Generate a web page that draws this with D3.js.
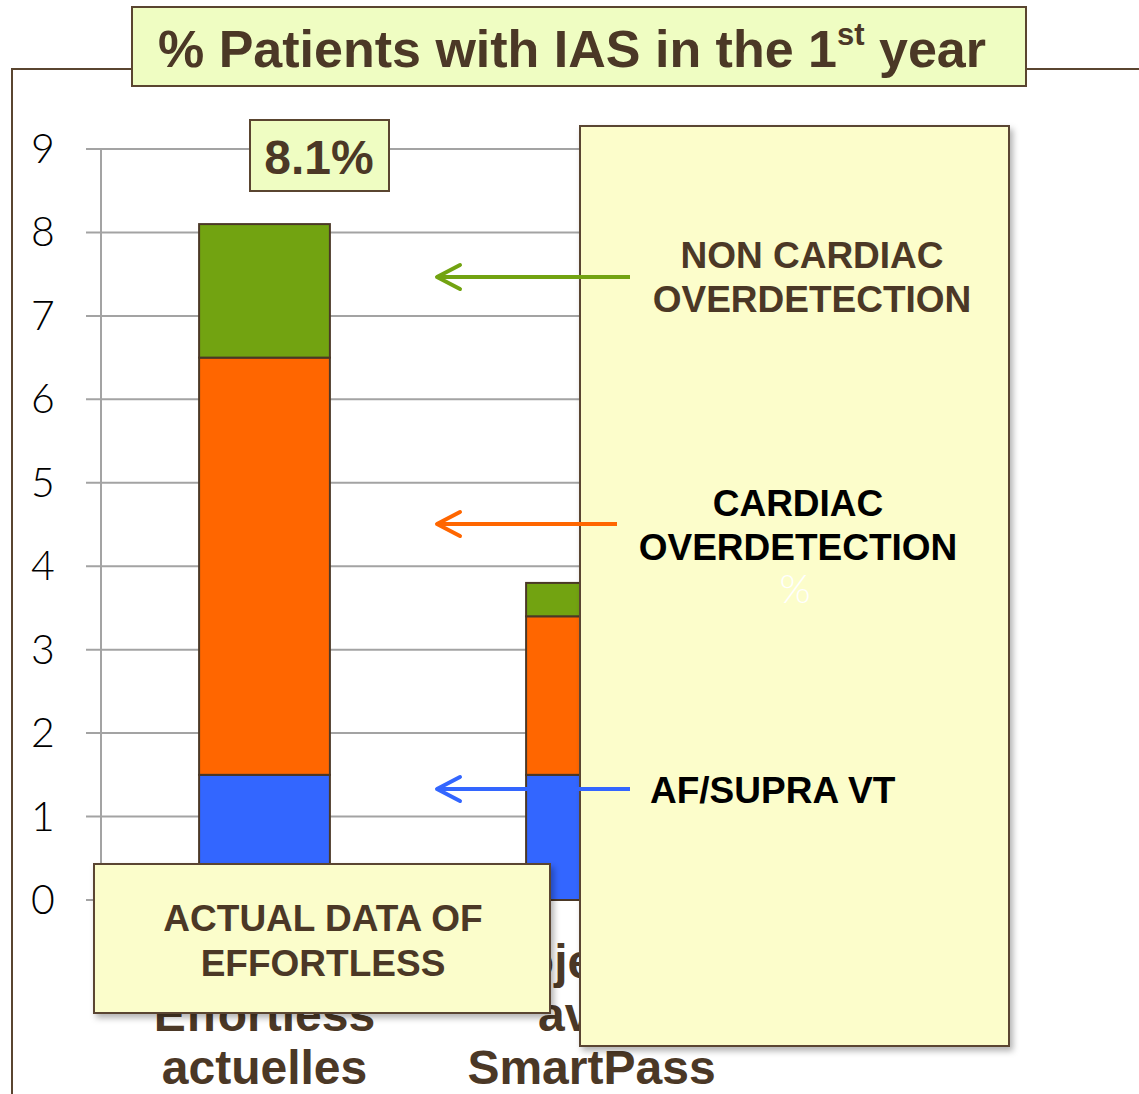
<!DOCTYPE html>
<html>
<head>
<meta charset="utf-8">
<script src="https://cdn.jsdelivr.net/npm/d3@7"></script>
<style>
  body { margin: 0; background: #fff; }
  svg { display: block; }
</style>
</head>
<body>
<script>
// values
var categories = ["Effortless", "SmartPass"];
var categoryLines = [["Données", "Effortless", "actuelles"], ["Projection", "avec", "SmartPass"]];
var seriesKeys = ["af", "cardiac", "noncardiac"];
var afSupra = [1.5, 1.5];
var cardiacOver = [5.0, 1.9];
var nonCardiacOver = [1.6, 0.4];
var yTicks = [0, 1, 2, 3, 4, 5, 6, 7, 8, 9];
var totalLabel = "8.1%";

var colors = { af: "#3366ff", cardiac: "#ff6600", noncardiac: "#72a311" };
var brown = "#4b3826";
var font = "Liberation Sans, Arial, sans-serif";

var width = 1139, height = 1094;

var rows = categories.map(function(c, i) {
  return { cat: c, af: afSupra[i], cardiac: cardiacOver[i], noncardiac: nonCardiacOver[i] };
});
var stacked = d3.stack().keys(seriesKeys)(rows);

var svg = d3.select("body").append("svg").attr("width", width).attr("height", height);

var defs = svg.append("defs");
var f = defs.append("filter").attr("id", "shadow").attr("x", "-10%").attr("y", "-10%").attr("width", "130%").attr("height", "130%");
f.append("feDropShadow").attr("dx", 3).attr("dy", 4).attr("stdDeviation", 3).attr("flood-color", "#000").attr("flood-opacity", 0.3);

var y = d3.scaleLinear().domain([0, 9]).range([900, 149]);
var x = d3.scaleBand().domain(categories).range([101, 755]).paddingInner(0.6).paddingOuter(0.3);

// outer frame
svg.append("path").attr("fill", "none").attr("stroke", "#5a4530").attr("stroke-width", 2)
  .attr("d", "M12,1094 L12,69 L140,69 M1020,69 L1139,69");

// gridlines
svg.append("g").selectAll("line").data(yTicks).enter().append("line")
  .attr("x1", 86).attr("x2", 1000)
  .attr("y1", function(d) { return y(d); }).attr("y2", function(d) { return y(d); })
  .attr("stroke", "#a3a3a3").attr("stroke-width", 2);
svg.append("line").attr("x1", 101).attr("x2", 101).attr("y1", y(9)).attr("y2", y(0))
  .attr("stroke", "#a3a3a3").attr("stroke-width", 2);

// tick labels
svg.append("g").selectAll("text").data(yTicks).enter().append("text")
  .attr("x", 43).attr("y", function(d) { return y(d) + 14; })
  .attr("text-anchor", "middle")
  .style("font-family", "Lato, 'DejaVu Sans', sans-serif").style("font-weight", 300)
  .style("font-size", "41px").attr("fill", "#000")
  .text(function(d) { return d; });

// bars
svg.append("g").selectAll("g").data(stacked).enter().append("g")
  .attr("fill", function(d) { return colors[d.key]; })
  .selectAll("rect").data(function(d) { return d; }).enter().append("rect")
  .attr("x", function(d) { return x(d.data.cat); })
  .attr("width", x.bandwidth())
  .attr("y", function(d) { return y(d[1]); })
  .attr("height", function(d) { return y(d[0]) - y(d[1]); })
  .attr("stroke", brown).attr("stroke-width", 2);

// category labels
categories.forEach(function(c, i) {
  svg.append("g").selectAll("text").data(categoryLines[i]).enter().append("text")
    .attr("x", x(c) + x.bandwidth() / 2)
    .attr("y", function(d, j) { return 978 + j * 53; })
    .attr("text-anchor", "middle")
    .style("font-family", font).style("font-weight", "bold")
    .style("font-size", "48px").attr("fill", brown)
    .text(function(d) { return d; });
});

// title box
svg.append("rect").attr("x", 132).attr("y", 7).attr("width", 894).attr("height", 79)
  .attr("fill", "#effdc2").attr("stroke", "#5a4530").attr("stroke-width", 2);
var title = svg.append("text").attr("x", 572).attr("y", 67).attr("text-anchor", "middle")
  .style("font-family", font).style("font-weight", "bold")
  .style("font-size", "52px").attr("fill", brown);
title.append("tspan").text("% Patients with IAS in the 1");
title.append("tspan").attr("dy", -22).style("font-size", "31px").text("st");
title.append("tspan").attr("dy", 22).text(" year");

// total label box
svg.append("rect").attr("x", 250).attr("y", 120).attr("width", 139).attr("height", 71)
  .attr("fill", "#effdc2").attr("stroke", "#5a4530").attr("stroke-width", 2);
svg.append("text").attr("x", 319).attr("y", 174).attr("text-anchor", "middle")
  .style("font-family", font).style("font-weight", "bold")
  .style("font-size", "48px").attr("fill", brown).text(totalLabel);

// actual data box
svg.append("rect").attr("x", 94).attr("y", 864).attr("width", 456).attr("height", 149)
  .attr("fill", "#fbfdcb").attr("stroke", "#5a4530").attr("stroke-width", 2)
  .attr("filter", "url(#shadow)");
svg.append("g").selectAll("text").data(["ACTUAL DATA OF", "EFFORTLESS"]).enter().append("text")
  .attr("x", 323).attr("y", function(d, i) { return 931 + i * 45; })
  .attr("text-anchor", "middle")
  .style("font-family", font).style("font-weight", "bold")
  .style("font-size", "37px").attr("fill", brown)
  .text(function(d) { return d; });

// right panel
svg.append("rect").attr("x", 580).attr("y", 126).attr("width", 429).attr("height", 920)
  .attr("fill", "#fcfdcb").attr("stroke", "#5a4530").attr("stroke-width", 2)
  .attr("filter", "url(#shadow)");

var panelText = [
  { lines: ["NON CARDIAC", "OVERDETECTION"], cx: 812, y0: 268, fill: brown },
  { lines: ["CARDIAC", "OVERDETECTION"], cx: 798, y0: 516, fill: "#000" }
];
panelText.forEach(function(p) {
  svg.append("g").selectAll("text").data(p.lines).enter().append("text")
    .attr("x", p.cx).attr("y", function(d, i) { return p.y0 + i * 44; })
    .attr("text-anchor", "middle")
    .style("font-family", font).style("font-weight", "bold")
    .style("font-size", "37px").attr("fill", p.fill)
    .text(function(d) { return d; });
});
svg.append("text").attr("x", 795).attr("y", 603).attr("text-anchor", "middle")
  .style("font-family", "Lato, sans-serif").style("font-weight", 300)
  .style("font-size", "40px").attr("fill", "#fff").text("%");
svg.append("text").attr("x", 650).attr("y", 803)
  .style("font-family", font).style("font-weight", "bold")
  .style("font-size", "37px").attr("fill", "#000").text("AF/SUPRA VT");

// arrows
var arrows = [
  { yv: 277, x0: 630, col: colors.noncardiac },
  { yv: 524, x0: 617, col: colors.cardiac },
  { yv: 789, x0: 630, col: colors.af }
];
arrows.forEach(function(a) {
  var g = svg.append("g").attr("stroke", a.col).attr("stroke-width", 4)
    .attr("fill", "none").attr("stroke-linecap", "round").attr("stroke-linejoin", "round");
  g.append("line").attr("x1", a.x0).attr("x2", 437).attr("y1", a.yv).attr("y2", a.yv).attr("stroke-linecap", "butt");
  g.append("path").attr("d", "M460," + (a.yv - 12) + " L437," + a.yv + " L460," + (a.yv + 12));
});
</script>
</body>
</html>
